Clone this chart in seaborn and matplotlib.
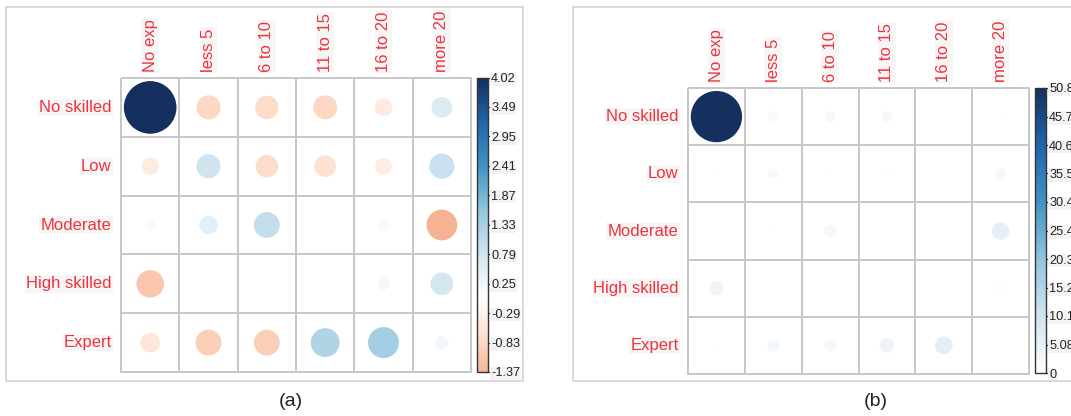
import numpy as np
import pandas as pd
import matplotlib
matplotlib.use("Agg")
import matplotlib.pyplot as plt
import matplotlib.cm as cm
from matplotlib.colors import LinearSegmentedColormap, ListedColormap, Normalize
from matplotlib.patches import Rectangle
import seaborn as sns

sns.set_theme(style="white")
plt.rcParams["font.family"] = ["Liberation Sans", "DejaVu Sans"]

# ---- categories ----
rows = ["No skilled", "Low", "Moderate", "High skilled", "Expert"]
cols = ["No exp", "less 5", "6 to 10", "11 to 15", "16 to 20", "more 20"]

# ---- (a) Pearson residuals, one list per skill level ----
resid_no_skilled = [4.02, -0.84, -0.80, -0.84, -0.46, 0.62]
resid_low = [-0.43, 0.84, -0.73, -0.68, -0.41, 0.92]
resid_moderate = [-0.15, 0.50, 0.97, 0.00, -0.19, -1.37]
resid_high_skilled = [-1.10, 0.00, 0.00, 0.00, -0.21, 0.75]
resid_expert = [-0.56, -0.97, -0.97, 1.21, 1.39, 0.25]

# ---- (b) contribution to chi-square (%), one list per skill level ----
contrib_no_skilled = [50.8, 2.0, 2.2, 2.2, 0.2, 0.3]
contrib_low = [0.2, 2.2, 0.6, 0.6, 0.1, 2.7]
contrib_moderate = [0.05, 0.3, 3.0, 0.0, 0.05, 5.9]
contrib_high_skilled = [3.8, 0.0, 0.0, 0.0, 0.05, 0.6]
contrib_expert = [0.3, 3.0, 2.8, 4.2, 6.1, 0.1]

# ---- colour-bar ticks ----
cb_ticks_a = [-1.37, -0.83, -0.29, 0.25, 0.79, 1.33, 1.87, 2.41, 2.95, 3.49, 4.02]
cb_labels_a = ["-1.37", "-0.83", "-0.29", "0.25", "0.79", "1.33",
               "1.87", "2.41", "2.95", "3.49", "4.02"]
cb_ticks_b = [0, 5.08, 10.16, 15.24, 20.32, 25.4, 30.48, 35.56, 40.64, 45.72, 50.8]
cb_labels_b = ["0", "5.08", "10.16", "15.24", "20.32", "25.4",
               "30.48", "35.56", "40.64", "45.72", "50.8"]

RDBU = ["#67001F", "#B2182B", "#D6604D", "#F4A582", "#FDDBC7", "#FFFFFF",
        "#D1E5F0", "#92C5DE", "#4393C3", "#2166AC", "#15305E"]
cmap = LinearSegmentedColormap.from_list("corr_rdbu", RDBU, N=200)

LABEL_RED = "#f0323c"
GRID = "#c8c8c8"
W, H, DPI = 1071, 416, 100

fig = plt.figure(figsize=(W / DPI, H / DPI), dpi=DPI)
fig.patch.set_facecolor("white")


def px_axes(left, top, right, bottom):
    return fig.add_axes([left / W, 1 - bottom / H, (right - left) / W, (bottom - top) / H])


def frame(left, top, right, bottom):
    fig.add_artist(Rectangle((left / W, 1 - bottom / H), (right - left) / W, (bottom - top) / H,
                             transform=fig.transFigure, fill=False,
                             edgecolor="#d6d6d6", lw=1.3))


def long_table(matrix):
    df = pd.DataFrame(matrix, index=rows, columns=cols)
    long = df.stack().reset_index()
    long.columns = ["row", "col", "value"]
    long["x"] = long["col"].map({c: i + 0.5 for i, c in enumerate(cols)})
    long["y"] = long["row"].map({r: i + 0.5 for i, r in enumerate(rows)})
    long["mag"] = long["value"].abs()
    return long[long["mag"] > 0]


def panel(matrix, vmax, grid_box, cbar_box, ticks, ticklabels, cell_px):
    ax = px_axes(*grid_box)
    sns.heatmap(np.zeros((len(rows), len(cols))), cmap=ListedColormap(["white"]),
                cbar=False, linewidths=1.2, linecolor=GRID,
                xticklabels=cols, yticklabels=rows, ax=ax)
    ax.collections[0].set_clip_on(False)

    data = long_table(matrix)
    smax = (0.9 * cell_px * 72 / DPI) ** 2
    sns.scatterplot(data=data, x="x", y="y", hue="value", palette=cmap,
                    hue_norm=(-vmax, vmax), size="mag", sizes=(0, smax),
                    size_norm=(0, vmax), linewidth=0, legend=False, ax=ax, zorder=3)
    ax.set_xlim(0, len(cols))
    ax.set_ylim(len(rows), 0)
    ax.set_xlabel("")
    ax.set_ylabel("")

    ax.xaxis.tick_top()
    ax.tick_params(axis="x", length=0, pad=4.3, labelsize=12, labelcolor=LABEL_RED)
    ax.tick_params(axis="y", length=0, pad=6.8, labelsize=12, labelcolor=LABEL_RED)
    for t in ax.get_xticklabels():
        t.set_rotation(90)
        t.set_ha("center")
        t.set_va("bottom")
        t.set_bbox(dict(facecolor="#f6f6f6", edgecolor="none", pad=1.0))
    for t in ax.get_yticklabels():
        t.set_rotation(0)
        t.set_bbox(dict(facecolor="#f6f6f6", edgecolor="none", pad=1.0))

    cax = px_axes(*cbar_box)
    sm = cm.ScalarMappable(norm=Normalize(-vmax, vmax), cmap=cmap)
    cb = fig.colorbar(sm, cax=cax, boundaries=np.linspace(ticks[0], ticks[-1], 201),
                      ticks=ticks)
    cb.set_ticklabels(ticklabels)
    cb.outline.set_edgecolor("#333333")
    cb.outline.set_linewidth(1.0)
    cax.tick_params(axis="y", direction="inout", length=4, width=0.8, pad=0.2,
                    labelsize=9.2, colors="#222222")
    for t in cax.get_yticklabels():
        t.set_bbox(dict(facecolor="#f3f3f3", edgecolor="none", pad=0.5))
    return ax


matrix_a = [resid_no_skilled, resid_low, resid_moderate, resid_high_skilled, resid_expert]
matrix_b = [contrib_no_skilled, contrib_low, contrib_moderate, contrib_high_skilled,
            contrib_expert]

# panel frames
frame(6, 7, 523, 381)
frame(573, 7, 1085, 381)

panel(matrix_a, max(cb_ticks_a), (121, 78, 471, 372), (477, 78, 488, 372),
      cb_ticks_a, cb_labels_a, 58.5)
panel(matrix_b, max(cb_ticks_b), (688, 88, 1029, 374), (1035, 88, 1046, 373),
      cb_ticks_b, cb_labels_b, 57.0)

fig.text(291 / W, 1 - 402 / H, "(a)", ha="center", va="center", fontsize=14, color="#222222")
fig.text(876 / W, 1 - 402 / H, "(b)", ha="center", va="center", fontsize=14, color="#222222")

fig.savefig("out.png", dpi=DPI)
